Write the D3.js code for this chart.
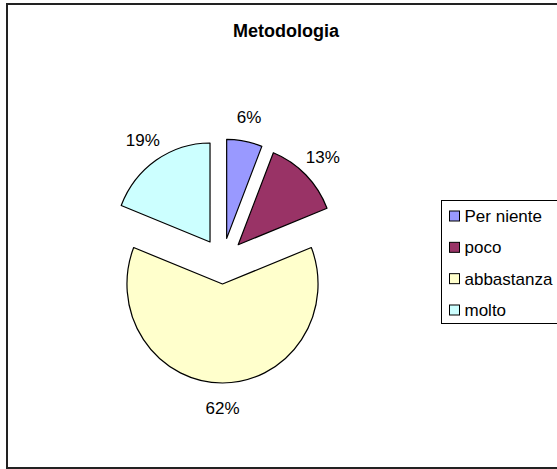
<!DOCTYPE html>
<html>
<head>
<meta charset="utf-8">
<script src="https://cdn.jsdelivr.net/npm/d3@7"></script>
<style>
  html, body { margin: 0; padding: 0; background: #fff; }
  svg { display: block; }
  text { font-family: "Liberation Sans", Arial, sans-serif; fill: #000; }
</style>
</head>
<body>
<svg id="chart" width="557" height="469"></svg>
<script>
const title = "Metodologia";
const categories = ["Per niente", "poco", "abbastanza", "molto"];
const values = [6, 13, 62, 19];
const colors = ["#9999FF", "#993366", "#FFFFCC", "#CCFFFF"];

const svg = d3.select("#chart");

// outer frame
svg.append("rect")
  .attr("x", 7).attr("y", 4)
  .attr("width", 620).attr("height", 464)
  .attr("fill", "#fff")
  .attr("stroke", "#222").attr("stroke-width", 2);

// title
svg.append("text")
  .attr("x", 286).attr("y", 37)
  .attr("text-anchor", "middle")
  .style("font-size", "18px").style("font-weight", "bold")
  .text(title);

// pie (slightly elliptical, as in the reference)
const cx = 222.5, cy = 261, R = 99, explode = 23, labelR = 147, sx = 0.965;
const pie = d3.pie().sort(null).value(d => d.value);
const arcs = pie(categories.map((c, i) => ({ name: c, value: values[i], color: colors[i] })));
const arc = d3.arc().innerRadius(0).outerRadius(R);
const total = d3.sum(values);

const g = svg.append("g").attr("transform", `translate(${cx},${cy})`);
const gp = g.append("g").attr("transform", `scale(${sx},1)`);

gp.selectAll("path")
  .data(arcs)
  .join("path")
  .attr("d", arc)
  .attr("transform", d => {
    const a = (d.startAngle + d.endAngle) / 2;
    return `translate(${explode * Math.sin(a)},${-explode * Math.cos(a)})`;
  })
  .attr("fill", d => d.data.color)
  .attr("stroke", "#000")
  .attr("stroke-width", 1.2)
  .attr("vector-effect", "non-scaling-stroke")
  .attr("stroke-linejoin", "round");

g.selectAll("text.lbl")
  .data(arcs)
  .join("text")
  .attr("class", "lbl")
  .attr("x", d => sx * labelR * Math.sin((d.startAngle + d.endAngle) / 2))
  .attr("y", d => -labelR * Math.cos((d.startAngle + d.endAngle) / 2))
  .attr("dy", "0.36em")
  .attr("text-anchor", "middle")
  .style("font-size", "17px")
  .text(d => Math.round(d.data.value / total * 100) + "%");

// legend
const lg = svg.append("g");
lg.append("rect")
  .attr("x", 441.5).attr("y", 200.5)
  .attr("width", 200).attr("height", 123)
  .attr("fill", "#fff")
  .attr("stroke", "#000").attr("stroke-width", 1);

const rowY = d3.scalePoint().domain(categories).range([216, 310]);
const items = lg.selectAll("g.item")
  .data(categories.map((c, i) => ({ name: c, color: colors[i] })))
  .join("g").attr("class", "item")
  .attr("transform", d => `translate(0,${rowY(d.name)})`);

items.append("rect")
  .attr("x", 449.5).attr("y", -5)
  .attr("width", 10).attr("height", 10)
  .attr("fill", d => d.color)
  .attr("stroke", "#000").attr("stroke-width", 1);

items.append("text")
  .attr("x", 464.5).attr("y", 0)
  .attr("dy", "0.36em")
  .style("font-size", "17px")
  .text(d => d.name);
</script>
</body>
</html>
